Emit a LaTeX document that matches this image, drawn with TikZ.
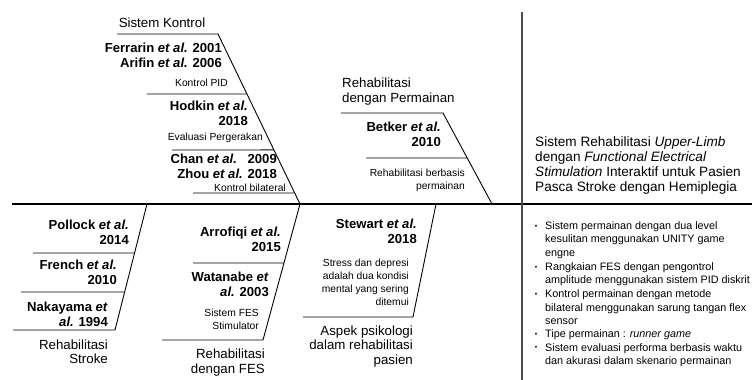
\documentclass[tikz,border=0pt]{standalone}
\usepackage{fontspec}
\setmainfont{Liberation Sans}
\usetikzlibrary{calc}

\begin{document}
\begin{tikzpicture}[x=1pt,y=-1pt,
  spine/.style={line width=1.8pt},
  bone/.style={line width=0.9pt},
  refs/.style={font=\bfseries\fontsize{13.1}{15}\selectfont, align=right, inner sep=0pt, anchor=east},
  cat/.style={font=\fontsize{13.3}{14.5}\selectfont, inner sep=0pt},
  note/.style={font=\fontsize{10.3}{13}\selectfont, align=right, inner sep=0pt, anchor=east},
  itemtext/.style={font=\fontsize{10.8}{13.4}\selectfont, align=left, inner sep=0pt, anchor=west},
  dot/.style={font=\fontsize{7}{8}\selectfont, inner sep=0pt}]
\useasboundingbox (0,0) rectangle (756,380);

% spine and divider
\coordinate (sL) at (12,204);
\coordinate (sR) at (752,204);
\coordinate (dT) at (522,12);
\coordinate (dB) at (522,380);
\draw[spine] (sL) -- (sR);
\draw[line width=1.2pt,black!70] (dT) -- (dB);

% upper bones
\coordinate (kT) at (218,34);
\coordinate (kF) at (300,204);
\coordinate (pT) at (443,113);
\coordinate (pF) at (492,204);
\draw[bone] (117,34) -- (kT) -- (kF);
\draw[bone] (147,94) -- ($(kT)!0.353!(kF)$);
\draw[bone] (172,150) -- ($(kT)!0.682!(kF)$);
\draw[bone] (193,193) -- ($(kT)!0.935!(kF)$);
\draw[bone] (341,113) -- (pT) -- (pF);
\draw[bone] (366,158) -- ($(pT)!0.495!(pF)$);

% lower bones
\coordinate (sT) at (147,204);
\coordinate (sB) at (115,330);
\coordinate (fB) at (263,340);
\coordinate (aT) at (436,204);
\coordinate (aB) at (413,317);
\draw[bone] (sT) -- (sB) -- (13,330);
\draw[bone] (33,253) -- ($(sT)!0.389!(sB)$);
\draw[bone] (21,292) -- ($(sT)!0.698!(sB)$);
\draw[bone] (kF) -- (fB) -- (162,340);
\draw[bone] (193,263) -- ($(kF)!0.434!(fB)$);
\draw[bone] (aT) -- (aB) -- (303,317);

% Sistem Kontrol
\node[cat] (tKontrol) at (162,23) {Sistem Kontrol};
\node[refs] (rFerrarin) at (222,48) {Ferrarin \textit{et al.} 2001};
\node[refs] (rArifin) at (222,63) {Arifin \textit{et al.} 2006};
\node[note] (nPID) at (228,83) {Kontrol PID};
\node[refs] (rHodkin) at (248,113.5) {Hodkin \textit{et al.}\\2018};
\node[note] (nEval) at (263,138) {Evaluasi Pergerakan};
\node[refs] (rChan) at (277,166.5) {Chan \textit{et al.}\hspace{0.45em} 2009\\Zhou \textit{et al.} 2018};
\node[note] (nBilat) at (286,188) {Kontrol bilateral};

% Permainan
\node[cat,align=left,anchor=west] (tGame) at (342,91.5) {Rehabilitasi\\dengan Permainan};
\node[refs] (rBetker) at (441,134.5) {Betker \textit{et al.}\\2010};
\node[note] (nGame) at (465,180) {Rehabilitasi berbasis\\permainan};

% Stroke
\node[refs] (rPollock) at (129,232) {Pollock \textit{et al.}\\2014};
\node[refs] (rFrench) at (117,272.5) {French \textit{et al.}\\2010};
\node[refs] (rNakayama) at (108,314.5) {Nakayama \textit{et}\\\textit{al.} 1994};
\node[cat,align=right,anchor=east] (tStroke) at (108,351.5) {Rehabilitasi\\Stroke};

% FES
\node[refs] (rArrofiqi) at (281,239.5) {Arrofiqi \textit{et al.}\\2015};
\node[refs] (rWatanabe) at (269,284) {Watanabe \textit{et}\\\textit{al.} 2003};
\node[note] (nFES) at (259,319.5) {Sistem FES\\Stimulator};
\node[cat,align=right,anchor=east] (tFES) at (265,362.5) {Rehabilitasi\\dengan FES};

% Psikologi
\node[refs] (rStewart) at (417,231) {Stewart \textit{et al.}\\2018};
\node[note] (nStress) at (409,282.5) {Stress dan depresi\\adalah dua kondisi\\mental yang sering\\ditemui};
\node[cat,align=right,anchor=east] (tPsy) at (413,346.5) {Aspek psikologi\\dalam rehabilitasi\\pasien};

% hasil
\node[cat,align=left,anchor=west,font=\fontsize{13.6}{15}\selectfont] (tJudul) at (535,165.5)
  {Sistem Rehabilitasi \textit{Upper-Limb}\\dengan \textit{Functional Electrical}\\\textit{Stimulation} Interaktif untuk Pasien\\Pasca Stroke dengan Hemiplegia};

\node[dot] (b1) at (536,227) {•};
\node[itemtext] (i1) at (545,240) {Sistem permainan dengan dua level\\kesulitan menggunakan UNITY game\\engne};
\node[dot] (b2) at (536,268) {•};
\node[itemtext] (i2) at (545,274.5) {Rangkaian FES dengan pengontrol\\amplitude menggunakan sistem PID diskrit};
\node[dot] (b3) at (536,295) {•};
\node[itemtext] (i3) at (545,307.5) {Kontrol permainan dengan metode\\bilateral menggunakan sarung tangan flex\\sensor};
\node[dot] (b4) at (536,335) {•};
\node[itemtext] (i4) at (545,335) {Tipe permainan : \textit{runner game}};
\node[dot] (b5) at (536,348) {•};
\node[itemtext] (i5) at (545,355) {Sistem evaluasi performa berbasis waktu\\dan akurasi dalam skenario permainan};
\end{tikzpicture}
\end{document}
